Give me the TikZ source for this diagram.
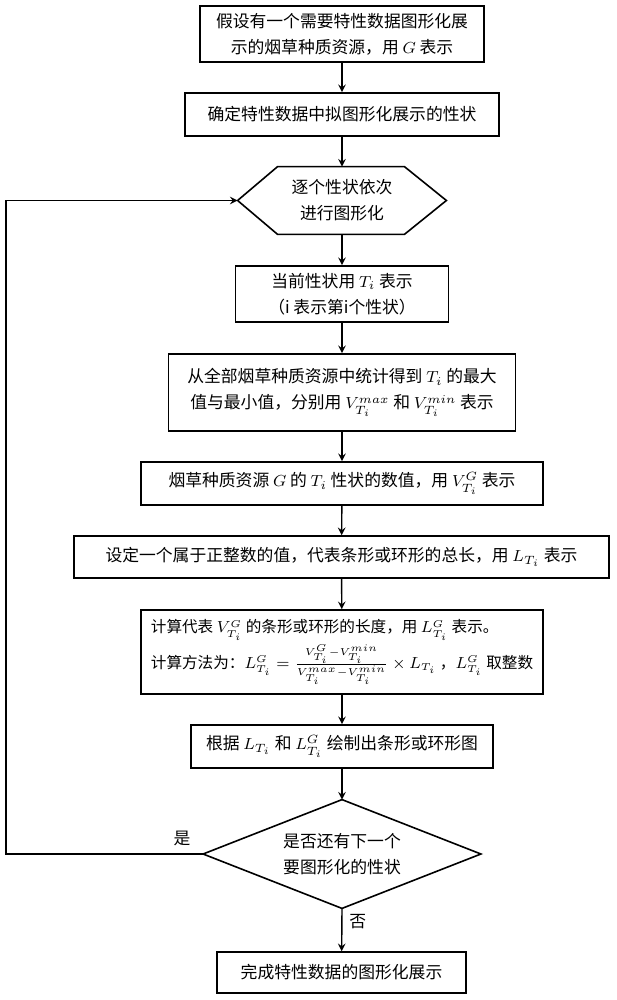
\documentclass[tikz,border=0pt]{standalone}
\usepackage{amsmath}
\usepackage{fontspec}
\setmainfont{Noto Sans CJK SC}
\tikzset{
  stepbox/.style={draw, line width=0.8pt, align=center, inner sep=0pt},
  flow/.style={->, >=stealth, line width=0.7pt}
}
\begin{document}
\begin{tikzpicture}[x=0.5pt, y=-0.5pt, font=\fontsize{8.4}{13}\selectfont]
    \useasboundingbox (0,0) rectangle (616,1000);
    % Boxes of the flow, top to bottom
    \node [stepbox, minimum width=142pt, minimum height=28pt] (start) at (342,34) {假设有一个需要特性数据图形化展\\示的烟草种质资源，用 $G$ 表示};
    \node [stepbox, minimum width=157pt, minimum height=21.5pt] (trait) at (342,114.5) {确定特性数据中拟图形化展示的性状};
    \node [align=center, minimum width=104pt, minimum height=33.5pt, inner sep=0pt] (loop) at (342,200.5) {逐个性状依次\\进行图形化};
    \draw [line width=0.8pt] (loop.west) -- ([xshift=20pt]loop.north west) -- ([xshift=-21pt]loop.north east)
      -- (loop.east) -- ([xshift=-21pt]loop.south east) -- ([xshift=20pt]loop.south west) -- cycle; % hexagon
    \node [stepbox, minimum width=106.5pt, minimum height=28pt] (cur) at (342,294) {当前性状用 $T_i$ 表示\\（i 表示第i个性状）};
    \node [stepbox, minimum width=173.5pt, minimum height=38.5pt] (range) at (342,392.5) {从全部烟草种质资源中统计得到 $T_i$ 的最大\\值与最小值，分别用 $V_{T_i}^{max}$ 和 $V_{T_i}^{min}$ 表示};
    \node [stepbox, minimum width=201pt, minimum height=21.5pt] (value) at (342,483.5) {烟草种质资源 $G$ 的 $T_i$ 性状的数值，用 $V_{T_i}^{G}$ 表示};
    \node [stepbox, minimum width=267.5pt, minimum height=21pt] (total) at (341.5,557) {设定一个属于正整数的值，代表条形或环形的总长，用 $L_{T_i}$ 表示};
    \node [stepbox, minimum width=201pt, minimum height=42pt, align=left, font=\fontsize{7.8}{12}\selectfont] (calc) at (342,652) {计算代表 $V_{T_i}^{G}$ 的条形或环形的长度，用 $L_{T_i}^{G}$ 表示。\\[1pt]
      计算方法为：$L_{T_i}^{G}=\frac{V_{T_i}^{G}-V_{T_i}^{min}}{V_{T_i}^{max}-V_{T_i}^{min}}\times L_{T_i}$ ，$L_{T_i}^{G}$ 取整数};
    \node [stepbox, minimum width=151pt, minimum height=21.5pt] (draw) at (342,746.5) {根据 $L_{T_i}$ 和 $L_{T_i}^{G}$ 绘制出条形或环形图};
    \node [align=center, inner sep=0pt, minimum width=138.5pt, minimum height=54pt] (more) at (342,854) {是否还有下一个\\要图形化的性状};
    \draw [line width=0.8pt] (more.west) -- (more.north) -- (more.east) -- (more.south) -- cycle; % diamond
    \node [stepbox, minimum width=124.5pt, minimum height=20.5pt] (done) at (341.5,972.5) {完成特性数据的图形化展示};
    % Connectors
    \draw [flow] (start) -- (trait);
    \draw [flow] (trait) -- (loop.north);
    \draw [flow] (loop.south) -- (cur);
    \draw [flow] (cur) -- (range);
    \draw [flow] (range) -- (value);
    \draw [flow] (value) -- (total);
    \draw [flow] (total) -- (calc);
    \draw [flow] (calc) -- (draw);
    \draw [flow] (draw) -- (more.north);
    \draw [flow] (more.south) -- (done) node [pos=0.3, right] (no) {否};
    \draw [flow] (more.west) -- (6,854) -- (6,200.5) -- (loop.west);
    \node (yes) at (182,838) {是};
\end{tikzpicture}
\end{document}
